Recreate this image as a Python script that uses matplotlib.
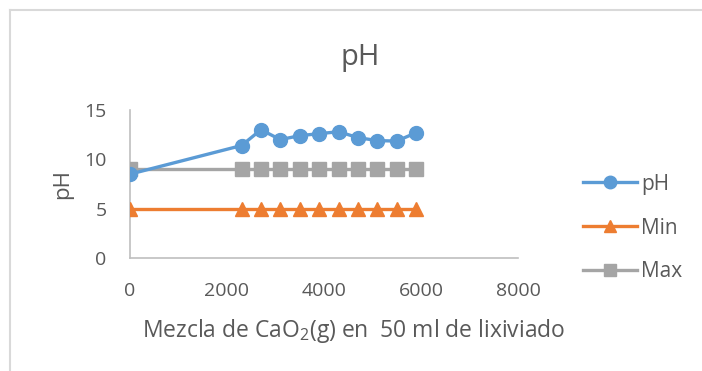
import matplotlib
matplotlib.use("Agg")
import matplotlib.pyplot as plt
from matplotlib.lines import Line2D

plt.rcParams['font.family'] = ['Open Sans', 'DejaVu Sans']

x_vals = [0, 2300, 2700, 3100, 3500, 3900, 4300, 4700, 5100, 5500, 5900]
ph_vals = [8.5, 11.4, 13.0, 12.0, 12.4, 12.6, 12.8, 12.2, 11.9, 11.85, 12.7]
min_vals = [5] * 11
max_vals = [9] * 11
x_ticks = [0, 2000, 4000, 6000, 8000]
y_ticks = [0, 5, 10, 15]

txt = '#595959'
axc = '#BFBFBF'
blue = '#5B9BD5'
orange = '#ED7D31'
gray = '#A5A5A5'

fig = plt.figure(figsize=(7.02, 3.71), dpi=100)
ax = fig.add_axes([130/702, 1-258/371, (518-130)/702, (258-110)/371])

ax.plot(x_vals, min_vals, color=orange, lw=2.4, marker='^', ms=10, label='Min', zorder=3)
ax.plot(x_vals, max_vals, color=gray, lw=2.4, marker='s', ms=9.5, label='Max', zorder=3)
ax.plot(x_vals, ph_vals, color=blue, lw=2.4, marker='o', ms=10, label='pH', zorder=4)

ax.set_xlim(0, 8000)
ax.set_ylim(0, 15)
ax.set_xticks(x_ticks)
ax.set_yticks(y_ticks)
ax.tick_params(length=0, labelsize=14, labelcolor=txt)
ax.tick_params(axis='x', pad=17)
ax.tick_params(axis='y', pad=17)
for s in ['top', 'right']:
    ax.spines[s].set_visible(False)
for s in ['left', 'bottom']:
    ax.spines[s].set_color(axc)
    ax.spines[s].set_linewidth(1.2)
for lab in ax.get_xticklabels() + ax.get_yticklabels():
    lab.set_clip_on(False)

fig.text(354/702, 1-331/371, 'Mezcla de CaO$_\\mathregular{2}$(g) en  50 ml de lixiviado',
         fontsize=16.5, color=txt, ha='center', va='center')
ax.set_ylabel('pH', fontsize=16, color=txt, labelpad=8)
fig.text(360/702, 1-57/371, 'pH', fontsize=21, color=txt, ha='center', va='center')

handles = [
    Line2D([], [], color=blue, lw=2.4, marker='o', ms=9),
    Line2D([], [], color=orange, lw=2.4, marker='^', ms=9),
    Line2D([], [], color=gray, lw=2.4, marker='s', ms=8.5),
]
leg = fig.legend(handles, ['pH', 'Min', 'Max'], loc='center left',
                 bbox_to_anchor=(583/702, 1-228/371), frameon=False,
                 fontsize=15, labelcolor=txt, handlelength=2.6, handletextpad=0.2,
                 labelspacing=1.1, borderpad=0, borderaxespad=0)

# chart border
fig.add_artist(Line2D([10/702, 10/702], [0, 1-10/371], color='#D9D9D9', lw=1.5, transform=fig.transFigure))
fig.add_artist(Line2D([10/702, 1], [1-10/371, 1-10/371], color='#D9D9D9', lw=1.5, transform=fig.transFigure))

fig.savefig('out.png', dpi=100)
